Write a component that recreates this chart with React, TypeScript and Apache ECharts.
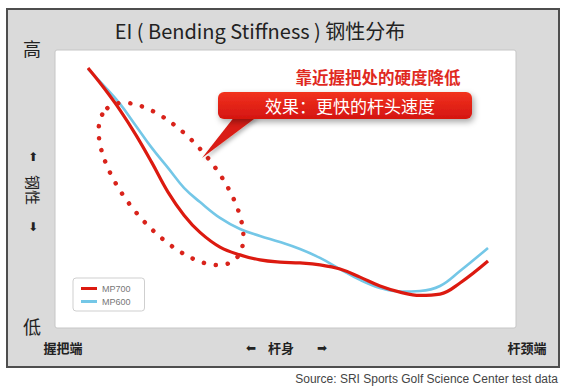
import React, { useEffect, useRef } from "react";
import * as echarts from "echarts";

// position along the shaft (0 = grip end, 100 = tip/hosel end)
const positions = [0, 4, 8, 12, 16, 20, 24, 28, 33, 38, 43, 48, 53, 58, 63, 68, 73, 78, 83, 88, 93, 100];
// relative bending stiffness (EI)
const mp700 = [93.5, 86.3, 78.4, 69.4, 59.4, 48.9, 40.6, 34.4, 29.1, 26.3, 24.5, 23.7, 23.4, 22.7, 21.2, 18.3, 15.1, 12.9, 11.7, 12.2, 16.2, 24.1];
const mp600 = [93.2, 87.1, 80.6, 72.7, 64.7, 57.6, 50.4, 45.3, 39.6, 35.6, 33.1, 30.9, 28.4, 25.2, 21.2, 17.3, 14.4, 13.1, 13.3, 15.1, 20.5, 28.8];
const seriesNames = ["MP700", "MP600"];

const title = "EI ( Bending Stiffness ) 钢性分布";
const yHigh = "高";
const yLow = "低";
const yName = "钢性";
const xStart = "握把端";
const xMid = "杆身";
const xEnd = "杆颈端";
const note = "靠近握把处的硬度降低";
const callout = "效果：更快的杆头速度";
const source = "Source: SRI Sports Golf Science Center test data";

const CJK = '"Noto Sans CJK SC", "Noto Sans", sans-serif';

export default function App() {
  const ref = useRef<HTMLDivElement>(null);
  useEffect(() => {
    if (!ref.current) return;
    const chart = echarts.init(ref.current, null, { renderer: "svg" });
    const red = "#dc1a10";
    const blue = "#74c7e7";
    const txt = (x: number, y: number, text: string, size: number, extra: any = {}) => ({
      type: "text",
      x,
      y,
      z: 20,
      ...extra.el,
      style: {
        text,
        fontSize: size,
        fontFamily: CJK,
        fill: "#222",
        align: "center",
        verticalAlign: "middle",
        ...extra.style,
      },
    });
    const arrowStyle = { style: { fontFamily: '"DejaVu Sans", sans-serif', fill: "#222" } };
    chart.setOption({
      animation: false,
      backgroundColor: "#fff",
      grid: { left: 88, right: 84, top: 50, bottom: 62 },
      xAxis: { type: "value", min: 0, max: 100, show: false },
      yAxis: { type: "value", min: 0, max: 100, show: false },
      legend: {
        orient: "vertical",
        left: 73,
        top: 278,
        data: seriesNames,
        icon: "rect",
        itemWidth: 16,
        itemHeight: 3,
        itemGap: 4,
        padding: [6, 14, 5, 8],
        backgroundColor: "#fff",
        borderColor: "#cfcfcf",
        borderWidth: 1,
        borderRadius: 3,
        textStyle: { fontSize: 9, color: "#777", fontFamily: "Liberation Sans" },
        z: 15,
      },
      graphic: [
        {
          type: "rect",
          z: -10,
          shape: { x: 7, y: 9, width: 552, height: 358 },
          style: { fill: "#dadada", stroke: "#4e4e4e", lineWidth: 2 },
        },
        {
          type: "rect",
          z: -9,
          shape: { x: 55, y: 50, width: 461, height: 278, r: 2 },
          style: { fill: "#fff", stroke: "#c6c6c6", lineWidth: 1 },
        },
        txt(260, 30, title, 20),
        txt(32, 48, yHigh, 18),
        txt(32, 326, yLow, 18),
        txt(33, 157, "⬆", 12, arrowStyle),
        txt(33, 190, yName, 15, { el: { rotation: -Math.PI / 2 } }),
        txt(33, 227, "⬇", 12, arrowStyle),
        txt(63, 347, xStart, 13, { style: { fontWeight: "bold" } }),
        txt(251, 348, "⬅", 12, arrowStyle),
        txt(281, 347, xMid, 13, { style: { fontWeight: "bold" } }),
        txt(322, 348, "➡", 12, arrowStyle),
        txt(527, 347, xEnd, 13, { style: { fontWeight: "bold" } }),
        txt(558, 379, source, 12, {
          style: { align: "right", fontFamily: '"Liberation Sans", Arial, sans-serif', fill: "#444" },
        }),
        txt(378, 77, note, 16.5, { style: { fill: "#e0291f", fontWeight: "bold" } }),
        {
          type: "ellipse",
          z: 10,
          x: 171,
          y: 184,
          rotation: (-50 * Math.PI) / 180,
          shape: { cx: 0, cy: 0, rx: 99, ry: 45 },
          style: { fill: "none", stroke: "#d9231b", lineWidth: 4.5, lineDash: [0.1, 12], lineCap: "round" },
        },
        {
          type: "polygon",
          z: 11,
          shape: { points: [[235, 116], [258, 116], [202, 158]] },
          style: {
            fill: "#d91a12",
            shadowBlur: 4,
            shadowOffsetX: 2,
            shadowOffsetY: 2,
            shadowColor: "rgba(0,0,0,0.3)",
          },
        },
        {
          type: "rect",
          z: 12,
          shape: { x: 218, y: 92, width: 254, height: 27, r: 6 },
          style: {
            fill: new echarts.graphic.LinearGradient(0, 0, 0, 1, [
              { offset: 0, color: "#f2321f" },
              { offset: 1, color: "#d41510" },
            ]),
            shadowBlur: 6,
            shadowOffsetX: 2,
            shadowOffsetY: 3,
            shadowColor: "rgba(0,0,0,0.35)",
          },
        },
        txt(350, 105.5, callout, 17, { el: { z: 13 }, style: { fill: "#fff" } }),
      ],
      series: [
        {
          name: seriesNames[0],
          type: "line",
          data: positions.map((p, i) => [p, mp700[i]]),
          smooth: 0.4,
          showSymbol: false,
          z: 4,
          lineStyle: { color: red, width: 3.2 },
          itemStyle: { color: red },
        },
        {
          name: seriesNames[1],
          type: "line",
          data: positions.map((p, i) => [p, mp600[i]]),
          smooth: 0.4,
          showSymbol: false,
          z: 3,
          lineStyle: { color: blue, width: 2.6 },
          itemStyle: { color: blue },
        },
      ],
    });
    return () => chart.dispose();
  }, []);
  return (
    <div
      ref={ref}
      style={{ position: "absolute", left: 0, top: 0, width: 572, height: 390 }}
    />
  );
}
